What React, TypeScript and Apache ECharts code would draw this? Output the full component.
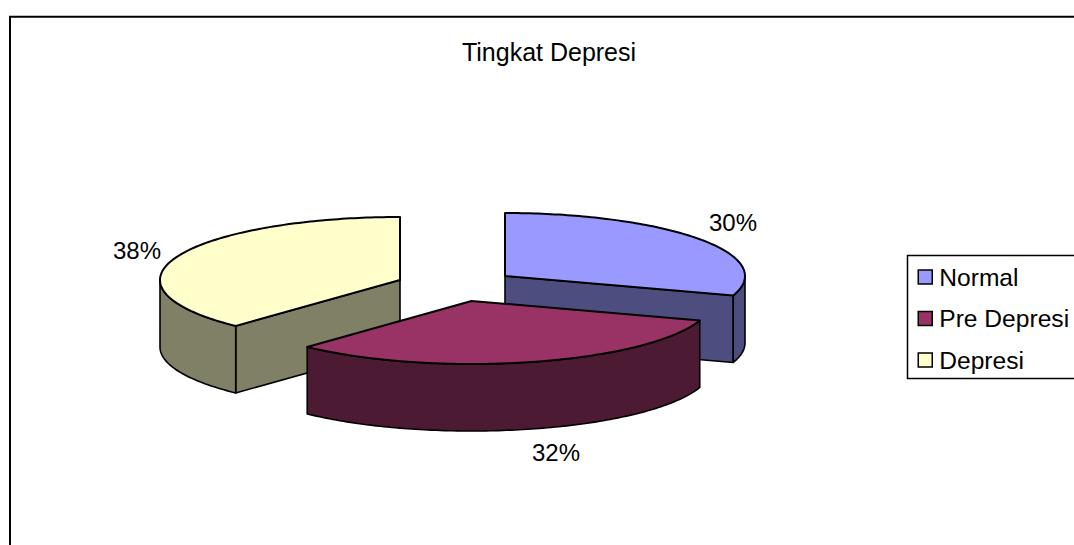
import React, { useEffect, useRef } from "react";
import * as echarts from "echarts";

// Survey result: share of respondents per depression level
const categories = ["Normal", "Pre Depresi", "Depresi"];
const shares = [30, 32, 38];
const chartTitle = "Tingkat Depresi";

const topColors = ["#9999FF", "#993366", "#FFFFCC"];
const sideColors = ["#4D4D80", "#4D1A33", "#808066"];

// Exploded slice centres and label anchors, in pixels
const centres = [
  [505, 276],
  [471.5, 301],
  [400, 280],
];
const labelAnchors = [
  [733, 222],
  [556, 452],
  [137, 250],
];
const sliceZ = [1, 3, 2];

const RX = 240;
const RY = 63;
const DEPTH = 67;
const FONT = "Liberation Sans, Arial, sans-serif";
const STROKE = "#000";

const total = shares.reduce((a, b) => a + b, 0);

const rimPoint = (cx: number, cy: number, deg: number, drop = 0) => {
  const r = (deg * Math.PI) / 180;
  return [cx + RX * Math.sin(r), cy - RY * Math.cos(r) + drop];
};

const arcPoints = (cx: number, cy: number, from: number, to: number, drop = 0) => {
  const pts: number[][] = [];
  const steps = Math.max(1, Math.ceil(to - from));
  for (let i = 0; i <= steps; i++) pts.push(rimPoint(cx, cy, from + ((to - from) * i) / steps, drop));
  return pts;
};

// Draws one slice of the tilted pie: visible cut faces, outer rim, top face and label
const sliceRenderer = (index: number) => (_params: any, api: any) => {
  const value = api.value(0) as number;
  const before = shares.slice(0, index).reduce((a, b) => a + b, 0);
  const start = (before / total) * 360;
  const end = start + (value / total) * 360;
  const [cx, cy] = centres[index];
  const children: any[] = [];
  const faceStyle = { fill: sideColors[index], stroke: STROKE, lineWidth: 1.6, lineJoin: "round" };

  const cutFace = (deg: number) => {
    const outer = rimPoint(cx, cy, deg);
    children.push({
      type: "polygon",
      shape: { points: [[cx, cy], outer, [outer[0], outer[1] + DEPTH], [cx, cy + DEPTH]] },
      style: faceStyle,
    });
  };
  if (Math.sin((start * Math.PI) / 180) < -1e-6) cutFace(start);
  if (Math.sin((end * Math.PI) / 180) > 1e-6) cutFace(end);

  const rimFrom = Math.max(start, 90);
  const rimTo = Math.min(end, 270);
  if (rimTo > rimFrom) {
    const upper = arcPoints(cx, cy, rimFrom, rimTo);
    const lower = arcPoints(cx, cy, rimFrom, rimTo, DEPTH).reverse();
    children.push({ type: "polygon", shape: { points: [...upper, ...lower] }, style: faceStyle });
  }

  children.push({
    type: "polygon",
    shape: { points: [[cx, cy], ...arcPoints(cx, cy, start, end)] },
    style: { fill: topColors[index], stroke: STROKE, lineWidth: 2, lineJoin: "round" },
  });

  children.push({
    type: "text",
    x: labelAnchors[index][0],
    y: labelAnchors[index][1],
    style: {
      text: `${value}%`,
      fill: "#000",
      font: `24px ${FONT}`,
      textAlign: "center",
      textVerticalAlign: "middle",
    },
  });

  return { type: "group", children };
};

export default function App() {
  const ref = useRef<HTMLDivElement>(null);

  useEffect(() => {
    document.body.style.margin = "0";
    const chart = echarts.init(ref.current!, null, { renderer: "svg" });
    chart.setOption({
      animation: false,
      backgroundColor: "#fff",
      title: {
        text: chartTitle,
        left: 544,
        top: 34,
        textAlign: "center",
        textStyle: { fontFamily: FONT, fontSize: 25, fontWeight: "normal", color: "#000", lineHeight: 26 },
      },
      legend: {
        orient: "vertical",
        left: 907.5,
        top: 255.5,
        data: categories,
        icon: "rect",
        itemWidth: 14,
        itemHeight: 14,
        itemGap: 14.5,
        padding: [8, 120, 5, 10],
        borderColor: "#000",
        borderWidth: 1.5,
        selectedMode: false,
        itemStyle: { borderColor: "#000", borderWidth: 1.5 },
        textStyle: { fontFamily: FONT, fontSize: 24.6, color: "#000", padding: [0, 0, 0, 2], lineHeight: 27 },
      },
      graphic: [
        {
          type: "rect",
          silent: true,
          z: -1,
          shape: { x: 10, y: 16.8, width: 1300, height: 800 },
          style: { fill: "none", stroke: "#000", lineWidth: 2 },
        },
      ],
      series: categories.map((name, i) => ({
        type: "custom",
        name,
        coordinateSystem: "none",
        z: sliceZ[i],
        itemStyle: { color: topColors[i] },
        data: [[shares[i]]],
        renderItem: sliceRenderer(i),
      })),
    });
    return () => chart.dispose();
  }, []);

  return <div ref={ref} style={{ width: 1074, height: 545 }} />;
}
